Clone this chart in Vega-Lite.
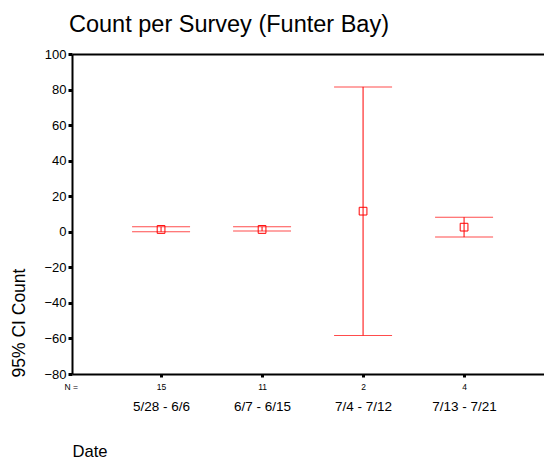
{
  "$schema": "https://vega.github.io/schema/vega-lite/v6.json",
  "autosize": "none",
  "padding": {"left": 72, "top": 54, "right": 0, "bottom": 85},
  "width": 472,
  "height": 320,
  "background": "white",
  "config": {
    "font": "Liberation Sans",
    "view": {"stroke": null},
    "axis": {"grid": false, "domainColor": "black", "tickColor": "black", "labelColor": "black", "titleColor": "black", "titleFontWeight": "normal"},
    "axisY": {"values": [-80, -60, -40, -20, 0, 20, 40, 60, 80, 100], "labelOverlap": false, "labelFontSize": 13, "labelPadding": 2, "tickSize": 4, "tickWidth": 3, "domainWidth": 2}
  },
  "title": {"text": "Count per Survey (Funter Bay)", "fontSize": 23.5, "fontWeight": "normal", "anchor": "start", "frame": "group", "dx": -3, "offset": -7, "baseline": "alphabetic", "color": "black"},
  "data": {"values": [
    {"date": "5/28 - 6/6", "n": 15, "mean": 1.3, "lower": 0.0, "upper": 2.8},
    {"date": "6/7 - 6/15", "n": 11, "mean": 1.3, "lower": 0.4, "upper": 2.8},
    {"date": "7/4 - 7/12", "n": 2, "mean": 11.6, "lower": -58.3, "upper": 81.5},
    {"date": "7/13 - 7/21", "n": 4, "mean": 2.6, "lower": -3.0, "upper": 8.2}
  ]},
  "resolve": {"axis": {"x": "independent"}},
  "layer": [
    {
      "mark": {"type": "rule", "color": "#ff0000", "strokeWidth": 1},
      "encoding": {
        "x": {"field": "date", "type": "nominal", "sort": null, "scale": {"type": "point", "padding": 0.8366, "align": 0.527},
          "axis": {"orient": "bottom", "domain": false, "ticks": false, "tickSize": 0, "labelPadding": 25, "labelFontSize": 13.5, "labelAngle": 0,
            "title": "Date", "titleFontSize": 16.6, "titleX": 0, "titleY": 77, "titleAlign": "left", "titleBaseline": "middle", "titleAnchor": "start"}},
        "y": {"field": "lower", "type": "quantitative", "scale": {"domain": [-80, 100], "nice": false, "zero": false},
          "axis": {"values": [-80, -60, -40, -20, 0, 20, 40, 60, 80, 100],
            "title": "95% CI Count", "titleFontSize": 17.5, "titleAngle": -90, "titleX": -53, "titleY": 323, "titleAlign": "left", "titleBaseline": "middle"}},
        "y2": {"field": "upper"}
      }
    },
    {
      "mark": {"type": "tick", "color": "#ff0000", "thickness": 1, "size": 58},
      "encoding": {
        "x": {"field": "date", "type": "nominal", "sort": null,
          "axis": {"orient": "bottom", "domainWidth": 2, "tickSize": 3, "tickWidth": 3, "labelPadding": 5, "labelFontSize": 8.5, "labelAngle": 0,
            "labelExpr": "datum.label == '5/28 - 6/6' ? '15' : datum.label == '6/7 - 6/15' ? '11' : datum.label == '7/4 - 7/12' ? '2' : '4'",
            "title": "N =", "titleFontSize": 8.5, "titleX": -8, "titleY": 12, "titleAlign": "left", "titleBaseline": "middle", "titleAnchor": "start"}},
        "y": {"field": "upper", "type": "quantitative", "axis": {"values": [-80, -60, -40, -20, 0, 20, 40, 60, 80, 100], "title": "95% CI Count"}}
      }
    },
    {
      "mark": {"type": "tick", "color": "#ff0000", "thickness": 1, "size": 58},
      "encoding": {
        "x": {"field": "date", "type": "nominal", "sort": null,
          "axis": {"orient": "top", "domainWidth": 2, "ticks": false, "labels": false, "title": null}},
        "y": {"field": "lower", "type": "quantitative", "axis": {"values": [-80, -60, -40, -20, 0, 20, 40, 60, 80, 100], "title": "95% CI Count"}}
      }
    },
    {
      "mark": {"type": "point", "shape": "square", "filled": false, "color": "#ff0000", "size": 60, "strokeWidth": 1, "opacity": 1},
      "encoding": {
        "x": {"field": "date", "type": "nominal", "sort": null, "axis": null},
        "y": {"field": "mean", "type": "quantitative", "axis": {"values": [-80, -60, -40, -20, 0, 20, 40, 60, 80, 100], "title": "95% CI Count"}}
      }
    }
  ]
}
